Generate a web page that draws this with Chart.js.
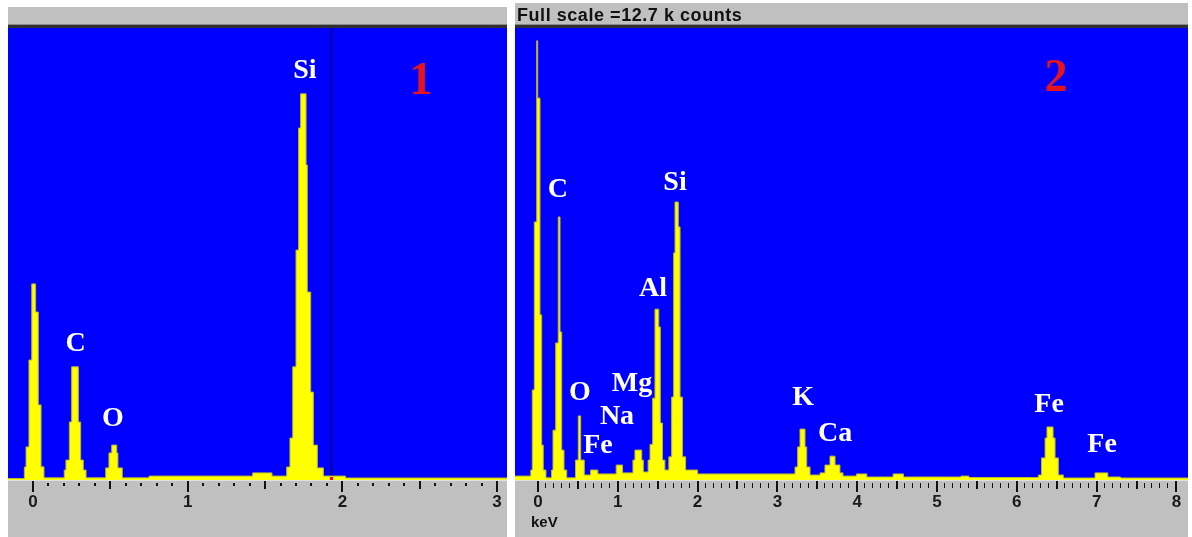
<!DOCTYPE html>
<html>
<head>
<meta charset="utf-8">
<title>EDS spectra</title>
<script src="https://cdn.jsdelivr.net/npm/chart.js@4.4.1/dist/chart.umd.min.js"></script>
<style>
  html, body { margin: 0; padding: 0; background: #fff; }
  body { width: 1192px; height: 537px; position: relative; overflow: hidden; }
  .panel { position: absolute; background: #c0c0c0; }
  #panel1 { left: 8px; top: 7px; width: 499px; height: 530px; }
  #panel2 { left: 515px; top: 3px; width: 673px; height: 534px; }
  .scale-note {
    position: absolute; left: 2px; top: 2px;
    font: bold 18px "Liberation Sans", Arial, sans-serif;
    letter-spacing: 0.55px;
    color: #111; white-space: nowrap;
  }
  canvas { position: absolute; left: 0; top: 0; }
</style>
</head>
<body>
<div class="panel" id="panel1">
  <canvas id="spectrum1" width="499" height="530"></canvas>
</div>
<div class="panel" id="panel2">
  <canvas id="spectrum2" width="673" height="534"></canvas>
  <div class="scale-note">Full scale =12.7 k counts</div>
</div>
<script>
'use strict';

// Spectrum 1 - channel start energies (keV) and counts, drawn as steps
const spec1Energy = [
	-0.162, -0.056, -0.045, -0.026, -0.008, 0.017, 0.034, 0.052, 0.071,
	0.202, 0.213, 0.235, 0.250, 0.293, 0.308, 0.325, 0.343,
	0.470, 0.491, 0.509, 0.541, 0.549, 0.577,
	0.750, 1.420, 1.545,
	1.640, 1.661, 1.679, 1.700, 1.717, 1.730, 1.765, 1.773, 1.795, 1.812, 1.838, 1.877,
	2.020, 3.070
];
const spec1Counts = [
	40, 365, 930, 3370, 5510, 4720, 2110, 370, 60,
	280, 560, 1630, 3180, 1630, 560, 280, 60,
	340, 760, 980, 760, 340, 60,
	110, 200, 110,
	365, 1180, 3180, 6460, 9890, 10850, 8850, 5280, 2470, 980, 340, 110,
	56, 56
];

// Spectrum 2
const spec2Energy = [
	-0.290, -0.090, -0.071, -0.046, -0.016, -0.004, 0.025, 0.046, 0.066, 0.100,
	0.170, 0.188, 0.222, 0.254, 0.276, 0.297, 0.326, 0.360,
	0.470, 0.505, 0.535, 0.580,
	0.660, 0.750, 0.980, 1.060,
	1.190, 1.215, 1.300, 1.320,
	1.380, 1.404, 1.437, 1.466, 1.513, 1.533, 1.560, 1.590,
	1.640, 1.675, 1.700, 1.717, 1.758, 1.780, 1.810, 1.850, 2.000,
	3.221, 3.254, 3.283, 3.346, 3.367, 3.409,
	3.534, 3.596, 3.659, 3.722, 3.784, 3.822,
	3.990, 4.120, 4.450, 4.580, 5.300, 5.400,
	6.270, 6.310, 6.354, 6.378, 6.454, 6.479, 6.520, 6.583,
	6.980, 7.140, 7.300, 8.150
];
const spec2Counts = [
	110, 280, 2530, 7250, 12340, 10730, 4640, 980, 280, 60,
	280, 1400, 3850, 7390, 4160, 840, 280, 60,
	560, 1800, 560, 140,
	280, 170, 420, 200,
	560, 840, 560, 225,
	560, 1000, 2300, 4800, 4300, 1600, 560, 280,
	650, 2330, 6380, 7810, 7110, 2330, 650, 280, 170,
	365, 930, 1430, 930, 365, 140,
	200, 420, 670, 420, 200, 110,
	170, 84, 170, 84, 110, 70,
	140, 620, 1180, 1490, 1180, 620, 140, 56,
	200, 84, 56, 56
];

// Axis labels, one per whole keV
const spec1TickLabels = ['0', '1', '2', '3'];
const spec2TickLabels = ['0', '1', '2', '3', '4', '5', '6', '7', '8'];

// Element markers: text, energy (keV), counts level of the text centre
const spec1Peaks = ['C', 'O', 'Si'];
const spec1PeakEnergy = [0.275, 0.517, 1.758];
const spec1PeakLevel = [3878, 1770, 11549];

const spec2Peaks = ['C', 'O', 'Fe', 'Na', 'Mg', 'Al', 'Si', 'K', 'Ca', 'Fe', 'Fe'];
const spec2PeakEnergy = [0.250, 0.526, 0.752, 0.990, 1.178, 1.441, 1.717, 3.321, 3.722, 6.404, 7.068];
const spec2PeakLevel = [8205, 2501, 1012, 1827, 2754, 5423, 8402, 2360, 1349, 2164, 1040];

const FULL_SCALE = 12700;

/**
 * Blue plot field, header rule, tick marks, markers and annotations
 */
const edsDecor = {
	id: 'edsDecor',

	beforeDatasetsDraw: function(chart, args, opts) {
		const ctx = chart.ctx;
		const a = chart.chartArea;
		const x = chart.scales.x;
		const w = a.right - a.left;

		ctx.save();
		ctx.fillStyle = '#0000ff';
		ctx.fillRect(a.left, a.top, w, a.bottom - a.top);

		// dark rule under the title strip
		ctx.fillStyle = '#8a8a8a';
		ctx.fillRect(a.left, a.top - 4, w, 1);
		ctx.fillStyle = '#303030';
		ctx.fillRect(a.left, a.top - 3, w, 3);

		if (opts.cursor != null) {
			const cx = x.getPixelForValue(opts.cursor);
			ctx.fillStyle = '#0000b8';
			ctx.fillRect(Math.round(cx) - 1, a.top, 3, a.bottom - a.top);
		}
		ctx.restore();
	},

	afterDatasetsDraw: function(chart, args, opts) {
		const ctx = chart.ctx;
		const a = chart.chartArea;
		const x = chart.scales.x;
		const y = chart.scales.y;

		ctx.save();

		// axis strip edge
		ctx.fillStyle = '#e2e2e2';
		ctx.fillRect(a.left, a.bottom, a.right - a.left, 1);

		// tick marks: whole keV long, half keV medium, tenths short
		ctx.fillStyle = '#111';
		x.ticks.forEach(function(t) {
			const px = Math.round(x.getPixelForValue(t.value));
			const tenth = Math.round(t.value * 10);
			if (tenth % 10 === 0) {
				ctx.fillRect(px - 1, a.bottom + 1, 2, 11);
			} else if (tenth % 5 === 0) {
				ctx.fillRect(px - 1, a.bottom + 1, 2, 8);
			} else {
				ctx.fillRect(px - 1, a.bottom + 3, opts.thinTicks ? 1 : 2, opts.thinTicks ? 5 : 3);
			}
		});

		if (opts.cursor != null) {
			const cx = x.getPixelForValue(opts.cursor);
			ctx.fillStyle = '#ff0000';
			ctx.fillRect(Math.round(cx) - 1, a.bottom - 3, 3, 3);
		}

		// element names
		ctx.fillStyle = '#ffffff';
		ctx.textAlign = 'center';
		ctx.textBaseline = 'alphabetic';
		ctx.font = 'bold 28px "Liberation Serif", "Times New Roman", serif';
		opts.names.forEach(function(name, i) {
			const px = x.getPixelForValue(opts.energy[i]);
			const py = y.getPixelForValue(opts.level[i]) + 0.33 * 28;
			ctx.fillText(name, px, py);
		});

		// spectrum number
		ctx.fillStyle = '#e8141c';
		ctx.font = 'bold 46px "Liberation Serif", "Times New Roman", serif';
		ctx.fillText(opts.tag.text, x.getPixelForValue(opts.tag.energy),
			y.getPixelForValue(opts.tag.level) + 0.34 * 46);

		if (opts.unit) {
			ctx.fillStyle = '#111';
			ctx.textAlign = 'left';
			ctx.font = 'bold 15px "Liberation Sans", Arial, sans-serif';
			ctx.fillText(opts.unit, x.getPixelForValue(0) - 7, a.bottom + 47);
		}
		ctx.restore();
	}
};

function buildSpectrum(canvasId, cfg) {
	const points = cfg.energy.map(function(e, i) {
		return { x: e, y: cfg.counts[i] };
	});
	const lastKeV = cfg.tickLabels.length - 1;

	return new Chart(document.getElementById(canvasId), {
		type: 'line',
		data: {
			datasets: [{
				data: points,
				stepped: 'before',
				fill: 'origin',
				backgroundColor: '#ffff00',
				borderColor: '#b9b92a',
				borderWidth: 1,
				pointRadius: 0,
				tension: 0
			}]
		},
		options: {
			responsive: false,
			animation: false,
			events: [],
			layout: { padding: { top: cfg.top, left: 0, right: 0, bottom: 0 } },
			plugins: {
				legend: { display: false },
				tooltip: { enabled: false },
				edsDecor: {
					names: cfg.names,
					energy: cfg.peakEnergy,
					level: cfg.peakLevel,
					tag: cfg.tag,
					cursor: cfg.cursor,
					unit: cfg.unit,
					thinTicks: cfg.thinTicks
				}
			},
			scales: {
				x: {
					type: 'linear',
					min: cfg.min,
					max: cfg.max,
					grid: { display: false, drawTicks: false },
					border: { display: false },
					afterBuildTicks: function(scale) {
						const ticks = [];
						for (let k = 0; k <= lastKeV * 10; k++) {
							ticks.push({ value: k / 10 });
						}
						scale.ticks = ticks;
					},
					afterFit: function(scale) {
						// plot field runs edge to edge; labels stay inside anyway
						scale.height = 57;
						scale.paddingLeft = 0;
						scale.paddingRight = 0;
					},
					ticks: {
						autoSkip: false,
						maxRotation: 0,
						padding: 12,
						color: '#1a1a1a',
						font: { family: '"Liberation Sans", Arial, sans-serif', size: 17, weight: 'bold' },
						callback: function(value) {
							const k = Math.round(value * 10);
							return k % 10 === 0 ? cfg.tickLabels[k / 10] : '';
						}
					}
				},
				y: {
					display: false,
					min: 0,
					max: FULL_SCALE
				}
			}
		},
		plugins: [edsDecor]
	});
}

buildSpectrum('spectrum1', {
	energy: spec1Energy,
	counts: spec1Counts,
	tickLabels: spec1TickLabels,
	names: spec1Peaks,
	peakEnergy: spec1PeakEnergy,
	peakLevel: spec1PeakLevel,
	tag: { text: '1', energy: 2.508, level: 11296 },
	cursor: 1.926,
	unit: null,
	thinTicks: false,
	min: -0.1616,
	max: 3.064,
	top: 21
});

buildSpectrum('spectrum2', {
	energy: spec2Energy,
	counts: spec2Counts,
	tickLabels: spec2TickLabels,
	names: spec2Peaks,
	peakEnergy: spec2PeakEnergy,
	peakLevel: spec2PeakLevel,
	tag: { text: '2', energy: 6.49, level: 11381 },
	cursor: null,
	unit: 'keV',
	thinTicks: true,
	min: -0.288,
	max: 8.145,
	top: 25
});
</script>
</body>
</html>
